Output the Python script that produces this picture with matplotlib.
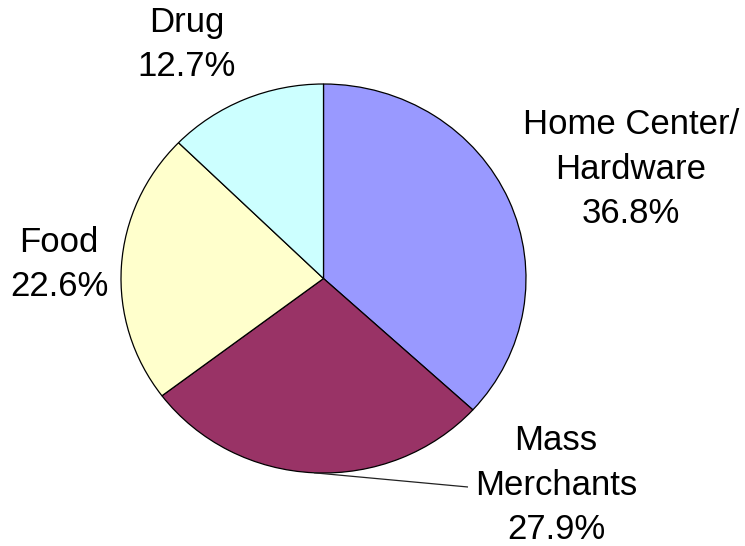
import numpy as np
import matplotlib
matplotlib.use("Agg")
import matplotlib.pyplot as plt

# -----------------------------
# Data: share of sales by channel
# -----------------------------
channels = ["Home Center/\nHardware", "Mass\nMerchants", "Food", "Drug"]
shares = [36.8, 27.9, 22.6, 12.7]
colors = ["#9999FF", "#993366", "#FFFFCC", "#CCFFFF"]

# label anchor (pixel x, pixel y of last baseline)
label_pos = [(631, 223), (556, 539), (59, 296), (187, 76)]

# -----------------------------
# Figure setup (pixel-based layout)
# -----------------------------
W, H = 745, 546
cx, cy = 323.5, 278.5   # pie centre in pixels (y down)
rx, ry = 202.5, 194.5   # pie is slightly wider than tall

plt.rcParams["font.family"] = ["Liberation Sans", "DejaVu Sans"]

fig = plt.figure(figsize=(W / 100, H / 100), dpi=100)
ax = fig.add_axes([0, 0, 1, 1])


def to_data(px, py):
    return (px - cx) / rx, (cy - py) / ry


wedges, _ = ax.pie(
    shares,
    colors=colors,
    startangle=90,
    counterclock=False,
    radius=1.0,
    wedgeprops=dict(edgecolor="black", linewidth=0.9),
)

ax.set_aspect("auto")
ax.set_xlim(to_data(0, 0)[0], to_data(W, 0)[0])
ax.set_ylim(to_data(0, H)[1], to_data(0, 0)[1])
ax.axis("off")

# -----------------------------
# Labels
# -----------------------------
for name, val, (px, py) in zip(channels, shares, label_pos):
    x, y = to_data(px, py)
    ax.text(x, y, f"{name}\n{val:.1f}%", ha="center", va="baseline",
            fontsize=25, linespacing=1.44, color="black")

# leader line for Mass Merchants from the wedge's mid-angle edge
w = wedges[1]
mid = np.deg2rad((w.theta1 + w.theta2) / 2)
ax.plot([np.cos(mid), to_data(468, 487)[0]],
        [np.sin(mid), to_data(468, 487)[1]],
        color="#222222", linewidth=0.9, solid_capstyle="butt")

fig.savefig("out.png", dpi=100)
